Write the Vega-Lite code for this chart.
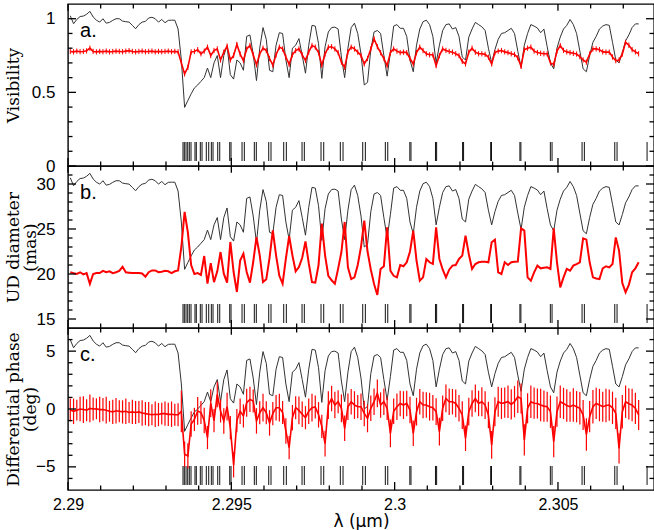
{
"$schema": "https://vega.github.io/schema/vega-lite/v6.json",
"padding": {"left": 3, "top": 2, "right": 1, "bottom": 0},
"spacing": 0,
"bounds": "flush",
"config": {
 "view": {"stroke": "#000", "strokeWidth": 1.4},
 "axis": {"domain": false, "grid": false, "ticks": false, "labelColor": "#000", "labelFont": "Liberation Sans", "labelFontSize": 17, "titleColor": "#000", "titleFont": "DejaVu Serif", "titleFontSize": 17, "titleFontWeight": "normal", "titleLineHeight": 17, "labelFlush": false, "labelOverlap": false}
},
"datasets": {
"xmaj": [{"t":2.29},{"t":2.295},{"t":2.3},{"t":2.305}],
"xmin": [{"t":2.291},{"t":2.292},{"t":2.293},{"t":2.294},{"t":2.296},{"t":2.297},{"t":2.298},{"t":2.299},{"t":2.301},{"t":2.302},{"t":2.303},{"t":2.304},{"t":2.306},{"t":2.307}],
"yamaj": [{"t":0},{"t":0.5},{"t":1}],
"yamin": [{"t":0.1},{"t":0.2},{"t":0.3},{"t":0.4},{"t":0.6},{"t":0.7},{"t":0.8},{"t":0.9}],
"ybmaj": [{"t":15},{"t":20},{"t":25},{"t":30}],
"ybmin": [{"t":16},{"t":17},{"t":18},{"t":19},{"t":21},{"t":22},{"t":23},{"t":24},{"t":26},{"t":27},{"t":28},{"t":29},{"t":31}],
"ycmaj": [{"t":-5},{"t":0},{"t":5}],
"ycmin": [{"t":-6},{"t":-4},{"t":-3},{"t":-2},{"t":-1},{"t":1},{"t":2},{"t":3},{"t":4},{"t":6}],
"d": [
{"l":2.29007,"f":1.02,"v":0.778,"ve":0.018,"u":20.19,"p":-0.09,"pe":1.0},
{"l":2.29017,"f":0.966,"v":0.775,"ve":0.018,"u":20.1,"p":-0.2,"pe":1.1},
{"l":2.29027,"f":0.995,"v":0.78,"ve":0.018,"u":20.0,"p":-0.1,"pe":0.9},
{"l":2.29037,"f":1.015,"v":0.776,"ve":0.018,"u":20.19,"p":0.0,"pe":1.05},
{"l":2.29047,"f":1.018,"v":0.778,"ve":0.018,"u":19.95,"p":-0.05,"pe":1.15},
{"l":2.29057,"f":1.03,"v":0.782,"ve":0.018,"u":20.1,"p":-0.1,"pe":0.95},
{"l":2.29067,"f":1.05,"v":0.8,"ve":0.018,"u":18.9,"p":0.05,"pe":1.2},
{"l":2.29077,"f":1.012,"v":0.778,"ve":0.018,"u":20.0,"p":0.0,"pe":1.0},
{"l":2.29087,"f":0.99,"v":0.775,"ve":0.018,"u":20.1,"p":0.02,"pe":0.9},
{"l":2.29097,"f":0.977,"v":0.778,"ve":0.018,"u":20.1,"p":-0.05,"pe":1.1},
{"l":2.29107,"f":1.0,"v":0.776,"ve":0.018,"u":20.35,"p":-0.05,"pe":1.0},
{"l":2.29117,"f":0.97,"v":0.78,"ve":0.018,"u":20.2,"p":-0.1,"pe":1.15},
{"l":2.29127,"f":0.975,"v":0.775,"ve":0.018,"u":20.3,"p":-0.2,"pe":0.9},
{"l":2.29137,"f":0.989,"v":0.777,"ve":0.018,"u":20.1,"p":-0.25,"pe":1.05},
{"l":2.29147,"f":1.0,"v":0.78,"ve":0.018,"u":20.2,"p":-0.15,"pe":1.1},
{"l":2.29157,"f":1.0,"v":0.778,"ve":0.018,"u":20.35,"p":-0.2,"pe":0.95},
{"l":2.29167,"f":0.984,"v":0.776,"ve":0.018,"u":20.8,"p":-0.25,"pe":1.0},
{"l":2.29177,"f":0.98,"v":0.78,"ve":0.018,"u":20.2,"p":-0.2,"pe":1.1},
{"l":2.29187,"f":0.977,"v":0.783,"ve":0.018,"u":20.15,"p":-0.3,"pe":0.9},
{"l":2.29197,"f":0.955,"v":0.778,"ve":0.018,"u":20.1,"p":-0.25,"pe":1.05},
{"l":2.29207,"f":0.932,"v":0.775,"ve":0.018,"u":20.1,"p":-0.3,"pe":1.0},
{"l":2.29217,"f":0.96,"v":0.778,"ve":0.018,"u":20.1,"p":-0.25,"pe":0.95},
{"l":2.29227,"f":0.977,"v":0.78,"ve":0.018,"u":20.05,"p":-0.35,"pe":1.1},
{"l":2.29237,"f":0.982,"v":0.776,"ve":0.018,"u":19.7,"p":-0.4,"pe":1.0},
{"l":2.29247,"f":1.005,"v":0.778,"ve":0.018,"u":20.2,"p":-0.45,"pe":1.05},
{"l":2.29257,"f":1.01,"v":0.78,"ve":0.018,"u":20.4,"p":-0.5,"pe":0.9},
{"l":2.29267,"f":1.0,"v":0.775,"ve":0.018,"u":20.4,"p":-0.45,"pe":1.1},
{"l":2.29277,"f":0.977,"v":0.778,"ve":0.018,"u":20.2,"p":-0.48,"pe":1.0},
{"l":2.29287,"f":0.995,"v":0.776,"ve":0.018,"u":20.25,"p":-0.4,"pe":0.95},
{"l":2.29297,"f":0.973,"v":0.778,"ve":0.018,"u":20.35,"p":-0.4,"pe":1.05},
{"l":2.29307,"f":0.989,"v":0.78,"ve":0.018,"u":20.3,"p":-0.46,"pe":1.0},
{"l":2.29317,"f":0.99,"v":0.776,"ve":0.018,"u":20.1,"p":-0.45,"pe":1.1},
{"l":2.29327,"f":0.99,"v":0.778,"ve":0.018,"u":20.3,"p":-0.5,"pe":0.95},
{"l":2.29337,"f":0.93,"v":0.775,"ve":0.018,"u":20.4,"p":-0.5,"pe":1.0},
{"l":2.29347,"f":0.72,"v":0.70,"ve":0.018,"u":23.0,"p":-0.2,"pe":1.8},
{"l":2.29357,"f":0.398,"v":0.625,"ve":0.018,"u":26.9,"p":-3.9,"pe":1.1},
{"l":2.29367,"f":0.445,"v":0.67,"ve":0.018,"u":24.6,"p":-4.05,"pe":1.1},
{"l":2.29377,"f":0.49,"v":0.775,"ve":0.018,"u":21.0,"p":-1.3,"pe":1.1},
{"l":2.29387,"f":0.53,"v":0.778,"ve":0.018,"u":20.0,"p":-0.9,"pe":1.0},
{"l":2.29397,"f":0.55,"v":0.79,"ve":0.018,"u":20.1,"p":-0.17,"pe":1.2},
{"l":2.29407,"f":0.575,"v":0.762,"ve":0.018,"u":19.9,"p":-0.3,"pe":1.0},
{"l":2.29417,"f":0.6,"v":0.78,"ve":0.018,"u":22.0,"p":-1.0,"pe":1.1},
{"l":2.29427,"f":0.665,"v":0.807,"ve":0.018,"u":18.93,"p":-2.47,"pe":1.0},
{"l":2.29437,"f":0.6,"v":0.75,"ve":0.018,"u":21.2,"p":0.5,"pe":1.2},
{"l":2.29447,"f":0.7,"v":0.784,"ve":0.018,"u":19.1,"p":-1.0,"pe":1.0},
{"l":2.29457,"f":0.75,"v":0.795,"ve":0.018,"u":20.3,"p":1.26,"pe":1.1},
{"l":2.29467,"f":0.6,"v":0.72,"ve":0.018,"u":22.44,"p":-0.17,"pe":1.0},
{"l":2.29477,"f":0.75,"v":0.773,"ve":0.018,"u":20.04,"p":-1.03,"pe":1.1},
{"l":2.29487,"f":0.815,"v":0.814,"ve":0.018,"u":19.04,"p":0.2,"pe":1.2},
{"l":2.29497,"f":0.62,"v":0.72,"ve":0.018,"u":23.56,"p":-1.61,"pe":1.0},
{"l":2.29507,"f":0.59,"v":0.75,"ve":0.018,"u":20.22,"p":-4.83,"pe":1.1},
{"l":2.29517,"f":0.72,"v":0.825,"ve":0.018,"u":18.0,"p":-1.0,"pe":1.0},
{"l":2.29527,"f":0.7,"v":0.76,"ve":0.018,"u":21.5,"p":-0.2,"pe":1.1},
{"l":2.29537,"f":0.65,"v":0.716,"ve":0.018,"u":22.26,"p":-0.6,"pe":1.0},
{"l":2.29547,"f":0.88,"v":0.795,"ve":0.018,"u":20.22,"p":0.54,"pe":1.2},
{"l":2.29557,"f":0.89,"v":0.818,"ve":0.018,"u":19.04,"p":0.83,"pe":1.1},
{"l":2.29567,"f":0.76,"v":0.755,"ve":0.018,"u":21.33,"p":0.69,"pe":1.0},
{"l":2.29577,"f":0.58,"v":0.687,"ve":0.018,"u":24.1,"p":-1.03,"pe":1.1},
{"l":2.29587,"f":0.8,"v":0.762,"ve":0.018,"u":22.07,"p":-0.32,"pe":1.0},
{"l":2.29597,"f":0.94,"v":0.8,"ve":0.018,"u":19.1,"p":0.11,"pe":1.2},
{"l":2.29607,"f":0.86,"v":0.784,"ve":0.018,"u":19.41,"p":-0.32,"pe":1.0},
{"l":2.29617,"f":0.65,"v":0.73,"ve":0.018,"u":21.8,"p":-1.2,"pe":1.1},
{"l":2.29627,"f":0.64,"v":0.685,"ve":0.018,"u":24.86,"p":-0.4,"pe":1.0},
{"l":2.29637,"f":0.82,"v":0.755,"ve":0.018,"u":22.07,"p":0.11,"pe":1.1},
{"l":2.29647,"f":0.905,"v":0.807,"ve":0.018,"u":19.8,"p":0.11,"pe":1.2},
{"l":2.29657,"f":0.9,"v":0.795,"ve":0.018,"u":18.93,"p":-0.3,"pe":1.0},
{"l":2.29667,"f":0.72,"v":0.74,"ve":0.018,"u":21.7,"p":-1.9,"pe":1.1},
{"l":2.29677,"f":0.6,"v":0.69,"ve":0.018,"u":24.22,"p":-3.34,"pe":1.0},
{"l":2.29687,"f":0.8,"v":0.755,"ve":0.018,"u":22.07,"p":-0.75,"pe":1.1},
{"l":2.29697,"f":0.82,"v":0.784,"ve":0.018,"u":20.3,"p":0.11,"pe":1.0},
{"l":2.29707,"f":0.865,"v":0.795,"ve":0.018,"u":20.78,"p":-0.12,"pe":1.2},
{"l":2.29717,"f":0.75,"v":0.755,"ve":0.018,"u":21.8,"p":-0.46,"pe":1.1},
{"l":2.29727,"f":0.63,"v":0.716,"ve":0.018,"u":23.63,"p":-0.75,"pe":1.0},
{"l":2.29737,"f":0.82,"v":0.775,"ve":0.018,"u":21.2,"p":-0.2,"pe":1.1},
{"l":2.29747,"f":0.955,"v":0.818,"ve":0.018,"u":19.1,"p":0.11,"pe":1.2},
{"l":2.29757,"f":0.95,"v":0.807,"ve":0.018,"u":19.04,"p":0.17,"pe":1.0},
{"l":2.29767,"f":0.83,"v":0.77,"ve":0.018,"u":20.97,"p":-0.5,"pe":1.1},
{"l":2.29777,"f":0.595,"v":0.685,"ve":0.018,"u":25.6,"p":-1.5,"pe":1.0},
{"l":2.29787,"f":0.81,"v":0.76,"ve":0.018,"u":22.07,"p":-3.0,"pe":1.1},
{"l":2.29797,"f":0.91,"v":0.807,"ve":0.018,"u":19.8,"p":0.34,"pe":1.2},
{"l":2.29807,"f":0.94,"v":0.81,"ve":0.018,"u":19.3,"p":0.91,"pe":1.1},
{"l":2.29817,"f":0.943,"v":0.795,"ve":0.018,"u":18.93,"p":0.34,"pe":1.15},
{"l":2.29827,"f":0.93,"v":0.77,"ve":0.018,"u":20.6,"p":0.63,"pe":1.0},
{"l":2.29837,"f":0.74,"v":0.705,"ve":0.018,"u":22.44,"p":0.06,"pe":1.2},
{"l":2.29847,"f":0.6,"v":0.67,"ve":0.018,"u":25.78,"p":-1.67,"pe":1.1},
{"l":2.29857,"f":0.8,"v":0.775,"ve":0.018,"u":20.74,"p":0.2,"pe":1.15},
{"l":2.29867,"f":0.94,"v":0.807,"ve":0.018,"u":19.44,"p":0.63,"pe":1.1},
{"l":2.29877,"f":0.97,"v":0.795,"ve":0.018,"u":19.63,"p":0.34,"pe":1.2},
{"l":2.29887,"f":0.9,"v":0.773,"ve":0.018,"u":21.0,"p":0.2,"pe":1.0},
{"l":2.29897,"f":0.76,"v":0.75,"ve":0.018,"u":23.0,"p":0.2,"pe":1.15},
{"l":2.29907,"f":0.55,"v":0.693,"ve":0.018,"u":25.93,"p":-0.38,"pe":1.1},
{"l":2.29917,"f":0.568,"v":0.73,"ve":0.018,"u":22.5,"p":-0.81,"pe":1.2},
{"l":2.29927,"f":0.79,"v":0.795,"ve":0.018,"u":20.5,"p":0.06,"pe":1.1},
{"l":2.29937,"f":0.91,"v":0.864,"ve":0.018,"u":18.89,"p":0.63,"pe":1.15},
{"l":2.29947,"f":0.92,"v":0.81,"ve":0.018,"u":17.67,"p":1.35,"pe":1.2},
{"l":2.29957,"f":0.9,"v":0.77,"ve":0.018,"u":20.56,"p":0.34,"pe":1.1},
{"l":2.29967,"f":0.75,"v":0.73,"ve":0.018,"u":20.86,"p":0.63,"pe":1.15},
{"l":2.29977,"f":0.61,"v":0.682,"ve":0.018,"u":25.19,"p":0.06,"pe":1.0},
{"l":2.29987,"f":0.77,"v":0.77,"ve":0.018,"u":20.37,"p":-2.1,"pe":1.2},
{"l":2.29997,"f":0.95,"v":0.795,"ve":0.018,"u":19.8,"p":-0.2,"pe":1.1},
{"l":2.30007,"f":0.96,"v":0.78,"ve":0.018,"u":19.63,"p":0.2,"pe":1.15},
{"l":2.30017,"f":0.935,"v":0.77,"ve":0.018,"u":21.0,"p":0.48,"pe":1.1},
{"l":2.30027,"f":0.935,"v":0.773,"ve":0.018,"u":20.86,"p":0.34,"pe":1.2},
{"l":2.30037,"f":0.88,"v":0.77,"ve":0.018,"u":21.3,"p":0.48,"pe":1.1},
{"l":2.30047,"f":0.72,"v":0.73,"ve":0.018,"u":22.5,"p":-0.09,"pe":1.15},
{"l":2.30057,"f":0.64,"v":0.693,"ve":0.018,"u":24.82,"p":-2.1,"pe":1.1},
{"l":2.30067,"f":0.82,"v":0.77,"ve":0.018,"u":21.49,"p":-0.23,"pe":1.2},
{"l":2.30077,"f":0.93,"v":0.807,"ve":0.018,"u":19.26,"p":0.63,"pe":1.1},
{"l":2.30087,"f":0.98,"v":0.784,"ve":0.018,"u":19.63,"p":0.34,"pe":1.15},
{"l":2.30097,"f":0.99,"v":0.762,"ve":0.018,"u":21.67,"p":0.34,"pe":1.1},
{"l":2.30107,"f":0.96,"v":0.755,"ve":0.018,"u":21.3,"p":0.2,"pe":1.2},
{"l":2.30117,"f":0.88,"v":0.755,"ve":0.018,"u":21.11,"p":0.11,"pe":1.1},
{"l":2.30127,"f":0.70,"v":0.682,"ve":0.018,"u":25.19,"p":-0.23,"pe":1.15},
{"l":2.30137,"f":0.82,"v":0.75,"ve":0.018,"u":21.67,"p":-1.96,"pe":1.2},
{"l":2.30147,"f":0.92,"v":0.795,"ve":0.018,"u":20.5,"p":0.06,"pe":1.1},
{"l":2.30157,"f":0.96,"v":0.785,"ve":0.018,"u":19.63,"p":0.91,"pe":1.2},
{"l":2.30167,"f":0.965,"v":0.778,"ve":0.018,"u":20.48,"p":0.63,"pe":1.15},
{"l":2.30177,"f":0.93,"v":0.773,"ve":0.018,"u":20.93,"p":0.63,"pe":1.1},
{"l":2.30187,"f":0.94,"v":0.762,"ve":0.018,"u":21.0,"p":0.48,"pe":1.2},
{"l":2.30197,"f":0.88,"v":0.75,"ve":0.018,"u":21.67,"p":0.06,"pe":1.15},
{"l":2.30207,"f":0.74,"v":0.71,"ve":0.018,"u":22.04,"p":-0.52,"pe":1.2},
{"l":2.30217,"f":0.72,"v":0.693,"ve":0.018,"u":24.26,"p":-2.53,"pe":1.1},
{"l":2.30227,"f":0.875,"v":0.773,"ve":0.018,"u":22.22,"p":-0.23,"pe":1.2},
{"l":2.30237,"f":0.93,"v":0.8,"ve":0.018,"u":20.56,"p":0.48,"pe":1.15},
{"l":2.30247,"f":0.975,"v":0.773,"ve":0.018,"u":21.11,"p":0.91,"pe":1.2},
{"l":2.30257,"f":0.96,"v":0.762,"ve":0.018,"u":21.3,"p":0.48,"pe":1.1},
{"l":2.30267,"f":0.945,"v":0.762,"ve":0.018,"u":21.37,"p":0.63,"pe":1.25},
{"l":2.30277,"f":0.92,"v":0.758,"ve":0.018,"u":21.35,"p":0.34,"pe":1.2},
{"l":2.30287,"f":0.80,"v":0.739,"ve":0.018,"u":21.3,"p":-0.52,"pe":1.15},
{"l":2.30297,"f":0.70,"v":0.693,"ve":0.018,"u":23.52,"p":-3.1,"pe":1.2},
{"l":2.30307,"f":0.79,"v":0.77,"ve":0.018,"u":23.82,"p":-0.23,"pe":1.25},
{"l":2.30317,"f":0.86,"v":0.78,"ve":0.018,"u":20.19,"p":0.63,"pe":1.3},
{"l":2.30327,"f":0.90,"v":0.784,"ve":0.018,"u":20.0,"p":0.48,"pe":1.35},
{"l":2.30337,"f":0.905,"v":0.775,"ve":0.018,"u":21.3,"p":0.55,"pe":1.3},
{"l":2.30347,"f":0.92,"v":0.77,"ve":0.018,"u":21.0,"p":0.63,"pe":1.4},
{"l":2.30357,"f":0.935,"v":0.762,"ve":0.018,"u":21.3,"p":0.4,"pe":1.3},
{"l":2.30367,"f":0.9,"v":0.757,"ve":0.018,"u":21.35,"p":0.63,"pe":1.35},
{"l":2.30377,"f":0.78,"v":0.735,"ve":0.018,"u":21.37,"p":1.06,"pe":1.4},
{"l":2.30387,"f":0.67,"v":0.677,"ve":0.018,"u":25.08,"p":0.91,"pe":1.3},
{"l":2.30397,"f":0.82,"v":0.79,"ve":0.018,"u":24.82,"p":-2.67,"pe":1.35},
{"l":2.30407,"f":0.90,"v":0.80,"ve":0.018,"u":19.63,"p":0.06,"pe":1.3},
{"l":2.30417,"f":0.96,"v":0.807,"ve":0.018,"u":19.26,"p":0.63,"pe":1.4},
{"l":2.30427,"f":0.95,"v":0.78,"ve":0.018,"u":20.19,"p":0.5,"pe":1.35},
{"l":2.30437,"f":0.937,"v":0.77,"ve":0.018,"u":20.93,"p":0.48,"pe":1.3},
{"l":2.30447,"f":0.905,"v":0.765,"ve":0.018,"u":20.63,"p":0.34,"pe":1.4},
{"l":2.30457,"f":0.93,"v":0.762,"ve":0.018,"u":20.7,"p":0.25,"pe":1.35},
{"l":2.30467,"f":0.81,"v":0.762,"ve":0.018,"u":20.74,"p":0.2,"pe":1.3},
{"l":2.30477,"f":0.70,"v":0.70,"ve":0.018,"u":20.56,"p":-0.23,"pe":1.4},
{"l":2.30487,"f":0.66,"v":0.69,"ve":0.018,"u":25.08,"p":-2.82,"pe":1.35},
{"l":2.30497,"f":0.80,"v":0.78,"ve":0.018,"u":21.3,"p":-0.23,"pe":1.3},
{"l":2.30507,"f":0.875,"v":0.818,"ve":0.018,"u":18.52,"p":0.63,"pe":1.4},
{"l":2.30517,"f":0.93,"v":0.785,"ve":0.018,"u":19.63,"p":0.48,"pe":1.35},
{"l":2.30527,"f":0.955,"v":0.775,"ve":0.018,"u":20.56,"p":0.3,"pe":1.4},
{"l":2.30537,"f":0.995,"v":0.77,"ve":0.018,"u":20.37,"p":0.2,"pe":1.3},
{"l":2.30547,"f":0.96,"v":0.765,"ve":0.018,"u":20.93,"p":0.34,"pe":1.45},
{"l":2.30557,"f":0.90,"v":0.76,"ve":0.018,"u":21.1,"p":0.2,"pe":1.35},
{"l":2.30567,"f":0.78,"v":0.742,"ve":0.018,"u":21.3,"p":0.06,"pe":1.4},
{"l":2.30577,"f":0.66,"v":0.72,"ve":0.018,"u":23.96,"p":-0.52,"pe":1.3},
{"l":2.30587,"f":0.64,"v":0.705,"ve":0.018,"u":23.82,"p":-2.2,"pe":1.4},
{"l":2.30597,"f":0.75,"v":0.76,"ve":0.018,"u":21.3,"p":-0.66,"pe":1.35},
{"l":2.30607,"f":0.84,"v":0.795,"ve":0.018,"u":19.63,"p":0.2,"pe":1.45},
{"l":2.30617,"f":0.88,"v":0.795,"ve":0.018,"u":19.5,"p":0.48,"pe":1.35},
{"l":2.30627,"f":0.93,"v":0.79,"ve":0.018,"u":19.44,"p":0.34,"pe":1.4},
{"l":2.30637,"f":0.95,"v":0.775,"ve":0.018,"u":20.63,"p":0.2,"pe":1.3},
{"l":2.30647,"f":0.96,"v":0.773,"ve":0.018,"u":20.86,"p":0.3,"pe":1.45},
{"l":2.30657,"f":0.955,"v":0.773,"ve":0.018,"u":20.74,"p":0.34,"pe":1.35},
{"l":2.30667,"f":0.84,"v":0.74,"ve":0.018,"u":21.11,"p":0.1,"pe":1.4},
{"l":2.30677,"f":0.72,"v":0.715,"ve":0.018,"u":24.07,"p":-0.38,"pe":1.35},
{"l":2.30687,"f":0.70,"v":0.72,"ve":0.018,"u":22.6,"p":-3.4,"pe":1.3},
{"l":2.30697,"f":0.77,"v":0.76,"ve":0.018,"u":19.0,"p":-0.23,"pe":1.45},
{"l":2.30707,"f":0.85,"v":0.84,"ve":0.018,"u":17.96,"p":0.63,"pe":1.4},
{"l":2.30717,"f":0.89,"v":0.82,"ve":0.018,"u":18.8,"p":0.45,"pe":1.35},
{"l":2.30727,"f":0.94,"v":0.79,"ve":0.018,"u":20.19,"p":0.34,"pe":1.4},
{"l":2.30737,"f":0.965,"v":0.775,"ve":0.018,"u":20.63,"p":0.06,"pe":1.35},
{"l":2.30747,"f":0.965,"v":0.762,"ve":0.018,"u":21.3,"p":-0.52,"pe":1.3}
],
"lines": [
{"l":2.293521},{"l":2.293561},{"l":2.293613},{"l":2.293665},{"l":2.293714},{"l":2.293766},
{"l":2.293888},{"l":2.293928},{"l":2.294051},{"l":2.294103},{"l":2.294234},{"l":2.294308},
{"l":2.294388},{"l":2.29444},{"l":2.294584},{"l":2.294645},{"l":2.294951},{"l":2.294991},
{"l":2.295328},{"l":2.295398},{"l":2.295704},{"l":2.295765},{"l":2.296145},{"l":2.296215},
{"l":2.296604},{"l":2.296684},{"l":2.297165},{"l":2.297235},{"l":2.297746},{"l":2.297829},
{"l":2.298337},{"l":2.29842},{"l":2.299023},{"l":2.299103},{"l":2.299715},{"l":2.299789},
{"l":2.300465},{"l":2.3005},{"l":2.30125},{"l":2.301285},{"l":2.30208},{"l":2.30211},
{"l":2.30294},{"l":2.302965},{"l":2.303835},{"l":2.303865},{"l":2.304767},{"l":2.304819},
{"l":2.305738},{"l":2.305808},{"l":2.306739},{"l":2.306809},{"l":2.307728}
]
},
"vconcat": [
{
 "width": 586, "height": 162,
 "data": {"name": "d"},
 "resolve": {"scale": {"y": "independent"}},
 "layer": [
  {"mark": {"type": "line", "color": "#333", "strokeWidth": 1},
   "encoding": {
    "x": {"field": "l", "type": "quantitative", "scale": {"domain": [2.29, 2.30794], "nice": false, "zero": false}, "axis": null},
    "y": {"field": "f", "type": "quantitative", "scale": {"domain": [0, 1.1], "nice": false, "zero": false}, "axis": null}}},
  {"data": {"name": "lines"}, "mark": {"type": "rule", "color": "#111", "strokeWidth": 1},
   "encoding": {
    "x": {"field": "l", "type": "quantitative", "axis": null},
    "y": {"datum": 0.034, "type": "quantitative", "scale": {"domain": [0, 1.1], "nice": false, "zero": false}, "axis": null},
    "y2": {"datum": 0.163}}},
  {"mark": {"type": "errorbar", "color": "#ff0000", "thickness": 1},
   "encoding": {
    "x": {"field": "l", "type": "quantitative", "axis": null},
    "y": {"field": "v", "type": "quantitative", "scale": {"domain": [0, 1.1], "nice": false, "zero": false},
      "axis": {"orient": "left", "values": [0, 0.5, 1], "format": "~g", "labelPadding": 13,
        "title": "Visibility", "titleAngle": -90, "titleX": -63, "titleY": 81, "titleAlign": "center", "titleBaseline": "top"}},
    "yError": {"field": "ve"}}},
  {"mark": {"type": "line", "color": "#ff0000", "strokeWidth": 1.6},
   "encoding": {
    "x": {"field": "l", "type": "quantitative", "axis": null},
    "y": {"field": "v", "type": "quantitative", "scale": {"domain": [0, 1.1], "nice": false, "zero": false}, "axis": null}}},
  {"data": {"values": [{}]}, "mark": {"type": "text", "align": "left", "baseline": "alphabetic", "fontSize": 20, "font": "Liberation Sans"},
   "encoding": {
    "x": {"datum": 2.29037, "type": "quantitative", "axis": null},
    "y": {"datum": 0.876, "type": "quantitative", "scale": {"domain": [0, 1.1], "nice": false, "zero": false}, "axis": null},
    "text": {"value": "a."}}},
  {"data": {"name": "xmaj"}, "mark": {"type": "rule", "color": "#000", "strokeWidth": 1.3},
   "encoding": {"x": {"field": "t", "type": "quantitative", "axis": null},
    "y": {"datum": 0, "type": "quantitative", "scale": {"domain": [0, 1.1], "nice": false, "zero": false}, "axis": null}, "y2": {"datum": 0.054}}},
  {"data": {"name": "xmin"}, "mark": {"type": "rule", "color": "#000", "strokeWidth": 1.3},
   "encoding": {"x": {"field": "t", "type": "quantitative", "axis": null},
    "y": {"datum": 0, "type": "quantitative", "scale": {"domain": [0, 1.1], "nice": false, "zero": false}, "axis": null}, "y2": {"datum": 0.03}}},
  {"data": {"name": "xmaj"}, "mark": {"type": "rule", "color": "#000", "strokeWidth": 1.3},
   "encoding": {"x": {"field": "t", "type": "quantitative", "axis": null},
    "y": {"datum": 1.1, "type": "quantitative", "scale": {"domain": [0, 1.1], "nice": false, "zero": false}, "axis": null}, "y2": {"datum": 1.055}}},
  {"data": {"name": "xmin"}, "mark": {"type": "rule", "color": "#000", "strokeWidth": 1.3},
   "encoding": {"x": {"field": "t", "type": "quantitative", "axis": null},
    "y": {"datum": 1.1, "type": "quantitative", "scale": {"domain": [0, 1.1], "nice": false, "zero": false}, "axis": null}, "y2": {"datum": 1.07}}},
  {"data": {"name": "yamaj"}, "mark": {"type": "rule", "color": "#000", "strokeWidth": 1.3},
   "encoding": {"y": {"field": "t", "type": "quantitative", "scale": {"domain": [0, 1.1], "nice": false, "zero": false}, "axis": null},
    "x": {"datum": 2.29, "type": "quantitative", "axis": null}, "x2": {"datum": 2.290245}}},
  {"data": {"name": "yamin"}, "mark": {"type": "rule", "color": "#000", "strokeWidth": 1.3},
   "encoding": {"y": {"field": "t", "type": "quantitative", "scale": {"domain": [0, 1.1], "nice": false, "zero": false}, "axis": null},
    "x": {"datum": 2.29, "type": "quantitative", "axis": null}, "x2": {"datum": 2.290138}}},
  {"data": {"name": "yamaj"}, "mark": {"type": "rule", "color": "#000", "strokeWidth": 1.3},
   "encoding": {"y": {"field": "t", "type": "quantitative", "scale": {"domain": [0, 1.1], "nice": false, "zero": false}, "axis": null},
    "x": {"datum": 2.30794, "type": "quantitative", "axis": null}, "x2": {"datum": 2.307695}}},
  {"data": {"name": "yamin"}, "mark": {"type": "rule", "color": "#000", "strokeWidth": 1.3},
   "encoding": {"y": {"field": "t", "type": "quantitative", "scale": {"domain": [0, 1.1], "nice": false, "zero": false}, "axis": null},
    "x": {"datum": 2.30794, "type": "quantitative", "axis": null}, "x2": {"datum": 2.307802}}}
 ]
},
{
 "width": 586, "height": 162,
 "data": {"name": "d"},
 "resolve": {"scale": {"y": "independent"}},
 "layer": [
  {"mark": {"type": "line", "color": "#333", "strokeWidth": 1},
   "encoding": {
    "x": {"field": "l", "type": "quantitative", "scale": {"domain": [2.29, 2.30794], "nice": false, "zero": false}, "axis": null},
    "y": {"field": "f", "type": "quantitative", "scale": {"domain": [0, 1.1], "nice": false, "zero": false}, "axis": null}}},
  {"data": {"name": "lines"}, "mark": {"type": "rule", "color": "#111", "strokeWidth": 1},
   "encoding": {
    "x": {"field": "l", "type": "quantitative", "axis": null},
    "y": {"datum": 0.034, "type": "quantitative", "scale": {"domain": [0, 1.1], "nice": false, "zero": false}, "axis": null},
    "y2": {"datum": 0.163}}},
  {"mark": {"type": "line", "color": "#ff0000", "strokeWidth": 2},
   "encoding": {
    "x": {"field": "l", "type": "quantitative", "axis": null},
    "y": {"field": "u", "type": "quantitative", "scale": {"domain": [14, 32], "nice": false, "zero": false},
      "axis": {"orient": "left", "values": [15, 20, 25, 30], "format": "~g", "labelPadding": 13,
        "title": ["UD diameter", "(mas)"], "titleAngle": -90, "titleX": -63, "titleY": 81, "titleAlign": "center", "titleBaseline": "top"}}}},
  {"data": {"values": [{}]}, "mark": {"type": "text", "align": "left", "baseline": "alphabetic", "fontSize": 20, "font": "Liberation Sans"},
   "encoding": {
    "x": {"datum": 2.29037, "type": "quantitative", "axis": null},
    "y": {"datum": 0.876, "type": "quantitative", "scale": {"domain": [0, 1.1], "nice": false, "zero": false}, "axis": null},
    "text": {"value": "b."}}},
  {"data": {"name": "xmaj"}, "mark": {"type": "rule", "color": "#000", "strokeWidth": 1.3},
   "encoding": {"x": {"field": "t", "type": "quantitative", "axis": null},
    "y": {"datum": 0, "type": "quantitative", "scale": {"domain": [0, 1.1], "nice": false, "zero": false}, "axis": null}, "y2": {"datum": 0.054}}},
  {"data": {"name": "xmin"}, "mark": {"type": "rule", "color": "#000", "strokeWidth": 1.3},
   "encoding": {"x": {"field": "t", "type": "quantitative", "axis": null},
    "y": {"datum": 0, "type": "quantitative", "scale": {"domain": [0, 1.1], "nice": false, "zero": false}, "axis": null}, "y2": {"datum": 0.03}}},
  {"data": {"name": "xmaj"}, "mark": {"type": "rule", "color": "#000", "strokeWidth": 1.3},
   "encoding": {"x": {"field": "t", "type": "quantitative", "axis": null},
    "y": {"datum": 1.1, "type": "quantitative", "scale": {"domain": [0, 1.1], "nice": false, "zero": false}, "axis": null}, "y2": {"datum": 1.055}}},
  {"data": {"name": "xmin"}, "mark": {"type": "rule", "color": "#000", "strokeWidth": 1.3},
   "encoding": {"x": {"field": "t", "type": "quantitative", "axis": null},
    "y": {"datum": 1.1, "type": "quantitative", "scale": {"domain": [0, 1.1], "nice": false, "zero": false}, "axis": null}, "y2": {"datum": 1.07}}},
  {"data": {"name": "ybmaj"}, "mark": {"type": "rule", "color": "#000", "strokeWidth": 1.3},
   "encoding": {"y": {"field": "t", "type": "quantitative", "scale": {"domain": [14, 32], "nice": false, "zero": false}, "axis": null},
    "x": {"datum": 2.29, "type": "quantitative", "axis": null}, "x2": {"datum": 2.290245}}},
  {"data": {"name": "ybmin"}, "mark": {"type": "rule", "color": "#000", "strokeWidth": 1.3},
   "encoding": {"y": {"field": "t", "type": "quantitative", "scale": {"domain": [14, 32], "nice": false, "zero": false}, "axis": null},
    "x": {"datum": 2.29, "type": "quantitative", "axis": null}, "x2": {"datum": 2.290138}}},
  {"data": {"name": "ybmaj"}, "mark": {"type": "rule", "color": "#000", "strokeWidth": 1.3},
   "encoding": {"y": {"field": "t", "type": "quantitative", "scale": {"domain": [14, 32], "nice": false, "zero": false}, "axis": null},
    "x": {"datum": 2.30794, "type": "quantitative", "axis": null}, "x2": {"datum": 2.307695}}},
  {"data": {"name": "ybmin"}, "mark": {"type": "rule", "color": "#000", "strokeWidth": 1.3},
   "encoding": {"y": {"field": "t", "type": "quantitative", "scale": {"domain": [14, 32], "nice": false, "zero": false}, "axis": null},
    "x": {"datum": 2.30794, "type": "quantitative", "axis": null}, "x2": {"datum": 2.307802}}}
 ]
},
{
 "width": 586, "height": 162,
 "data": {"name": "d"},
 "resolve": {"scale": {"y": "independent"}, "axis": {"x": "independent"}},
 "layer": [
  {"mark": {"type": "line", "color": "#333", "strokeWidth": 1},
   "encoding": {
    "x": {"field": "l", "type": "quantitative", "scale": {"domain": [2.29, 2.30794], "nice": false, "zero": false},
      "axis": {"orient": "bottom", "values": [2.29,2.295,2.3,2.305], "format": "~g", "labelPadding": 6, "labelFontSize": 16,
        "title": "λ (μm)", "titleFont": "DejaVu Sans", "titleFontSize": 17, "titleY": 23, "titleBaseline": "top"}},
    "y": {"field": "f", "type": "quantitative", "scale": {"domain": [0, 1.1], "nice": false, "zero": false}, "axis": null}}},
  {"data": {"name": "lines"}, "mark": {"type": "rule", "color": "#111", "strokeWidth": 1},
   "encoding": {
    "x": {"field": "l", "type": "quantitative", "axis": null},
    "y": {"datum": 0.034, "type": "quantitative", "scale": {"domain": [0, 1.1], "nice": false, "zero": false}, "axis": null},
    "y2": {"datum": 0.163}}},
  {"mark": {"type": "errorbar", "color": "#ff0000", "thickness": 1.2},
   "encoding": {
    "x": {"field": "l", "type": "quantitative", "axis": null},
    "y": {"field": "p", "type": "quantitative", "scale": {"domain": [-7, 7], "nice": false, "zero": false},
      "axis": {"orient": "left", "values": [-5, 0, 5], "format": "~g", "labelPadding": 13,
        "title": ["Differential phase", "(deg)"], "titleAngle": -90, "titleX": -63, "titleY": 81, "titleAlign": "center", "titleBaseline": "top"}},
    "yError": {"field": "pe"}}},
  {"mark": {"type": "line", "color": "#ff0000", "strokeWidth": 1.6},
   "encoding": {
    "x": {"field": "l", "type": "quantitative", "axis": null},
    "y": {"field": "p", "type": "quantitative", "scale": {"domain": [-7, 7], "nice": false, "zero": false}, "axis": null}}},
  {"data": {"values": [{}]}, "mark": {"type": "text", "align": "left", "baseline": "alphabetic", "fontSize": 20, "font": "Liberation Sans"},
   "encoding": {
    "x": {"datum": 2.29037, "type": "quantitative", "axis": null},
    "y": {"datum": 0.876, "type": "quantitative", "scale": {"domain": [0, 1.1], "nice": false, "zero": false}, "axis": null},
    "text": {"value": "c."}}},
  {"data": {"name": "xmaj"}, "mark": {"type": "rule", "color": "#000", "strokeWidth": 1.3},
   "encoding": {"x": {"field": "t", "type": "quantitative", "axis": null},
    "y": {"datum": 0, "type": "quantitative", "scale": {"domain": [0, 1.1], "nice": false, "zero": false}, "axis": null}, "y2": {"datum": 0.054}}},
  {"data": {"name": "xmin"}, "mark": {"type": "rule", "color": "#000", "strokeWidth": 1.3},
   "encoding": {"x": {"field": "t", "type": "quantitative", "axis": null},
    "y": {"datum": 0, "type": "quantitative", "scale": {"domain": [0, 1.1], "nice": false, "zero": false}, "axis": null}, "y2": {"datum": 0.03}}},
  {"data": {"name": "xmaj"}, "mark": {"type": "rule", "color": "#000", "strokeWidth": 1.3},
   "encoding": {"x": {"field": "t", "type": "quantitative", "axis": null},
    "y": {"datum": 1.1, "type": "quantitative", "scale": {"domain": [0, 1.1], "nice": false, "zero": false}, "axis": null}, "y2": {"datum": 1.055}}},
  {"data": {"name": "xmin"}, "mark": {"type": "rule", "color": "#000", "strokeWidth": 1.3},
   "encoding": {"x": {"field": "t", "type": "quantitative", "axis": null},
    "y": {"datum": 1.1, "type": "quantitative", "scale": {"domain": [0, 1.1], "nice": false, "zero": false}, "axis": null}, "y2": {"datum": 1.07}}},
  {"data": {"name": "ycmaj"}, "mark": {"type": "rule", "color": "#000", "strokeWidth": 1.3},
   "encoding": {"y": {"field": "t", "type": "quantitative", "scale": {"domain": [-7, 7], "nice": false, "zero": false}, "axis": null},
    "x": {"datum": 2.29, "type": "quantitative", "axis": null}, "x2": {"datum": 2.290245}}},
  {"data": {"name": "ycmin"}, "mark": {"type": "rule", "color": "#000", "strokeWidth": 1.3},
   "encoding": {"y": {"field": "t", "type": "quantitative", "scale": {"domain": [-7, 7], "nice": false, "zero": false}, "axis": null},
    "x": {"datum": 2.29, "type": "quantitative", "axis": null}, "x2": {"datum": 2.290138}}},
  {"data": {"name": "ycmaj"}, "mark": {"type": "rule", "color": "#000", "strokeWidth": 1.3},
   "encoding": {"y": {"field": "t", "type": "quantitative", "scale": {"domain": [-7, 7], "nice": false, "zero": false}, "axis": null},
    "x": {"datum": 2.30794, "type": "quantitative", "axis": null}, "x2": {"datum": 2.307695}}},
  {"data": {"name": "ycmin"}, "mark": {"type": "rule", "color": "#000", "strokeWidth": 1.3},
   "encoding": {"y": {"field": "t", "type": "quantitative", "scale": {"domain": [-7, 7], "nice": false, "zero": false}, "axis": null},
    "x": {"datum": 2.30794, "type": "quantitative", "axis": null}, "x2": {"datum": 2.307802}}}
 ]
}
]
}
